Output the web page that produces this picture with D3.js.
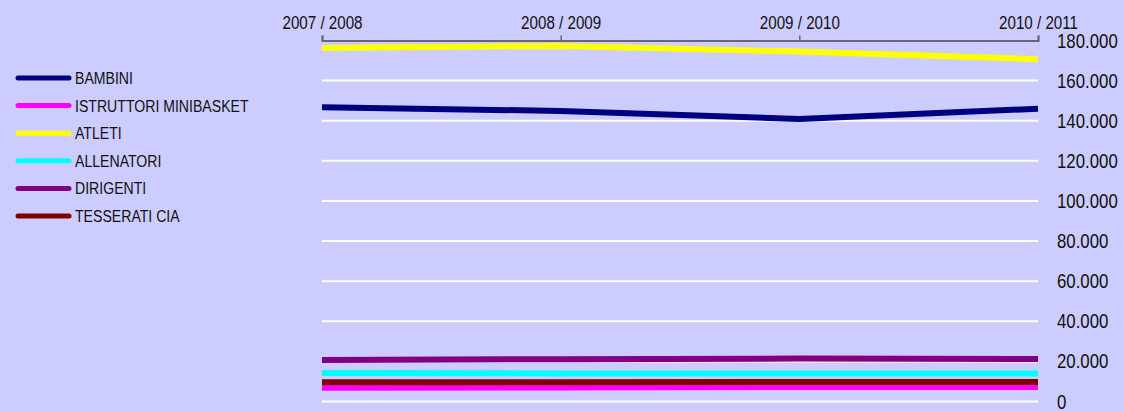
<!DOCTYPE html>
<html>
<head>
<meta charset="utf-8">
<script src="https://cdn.jsdelivr.net/npm/d3@7"></script>
<style>
  html, body { margin: 0; padding: 0; background: #ccccff; }
  svg { display: block; font-family: "Liberation Sans", Arial, sans-serif; }
</style>
</head>
<body>
<div class="chart"></div>
<script>
const seasons = ["2007 / 2008", "2008 / 2009", "2009 / 2010", "2010 / 2011"]
const seriesNames = ["BAMBINI", "ISTRUTTORI MINIBASKET", "ATLETI", "ALLENATORI", "DIRIGENTI", "TESSERATI CIA"]
const seriesColors = ["#000080", "#ff00ff", "#ffff00", "#00ffff", "#800080", "#800000"]

const bambini = [146700, 144900, 140900, 146000]
const istruttori = [6900, 7000, 7200, 7200]
const atleti = [176300, 177300, 174500, 170700]
const allenatori = [14200, 14000, 13900, 13900]
const dirigenti = [20700, 21100, 21400, 21200]
const tesseratiCia = [9600, 9650, 9700, 9700]

const yTicks = [0, 20000, 40000, 60000, 80000, 100000, 120000, 140000, 160000, 180000]

const seriesValues = [bambini, istruttori, atleti, allenatori, dirigenti, tesseratiCia]

const width = 1124
const height = 411
const squeeze = 0.82 // condensed look of the original font

const it = d3.formatLocale({decimal: ",", thousands: ".", grouping: [3], currency: ["€", ""]})
const fmt = it.format(",")

const xScale = d3.scalePoint()
	.domain(seasons)
	.range([322, 1038])

const yScale = d3.scaleLinear()
	.domain([0, 180000])
	.range([401.5, 40.5])

let svg = d3.select(".chart")
	.append("svg")
	.attr("width", width)
	.attr("height", height)

svg.append("rect")
	.attr("width", width)
	.attr("height", height)
	.attr("fill", "#ccccff")

// white gridlines (the top one is the axis)
svg.append("g")
	.selectAll("line")
	.data(yTicks.filter(function(d){return d < 180000}))
	.enter()
	.append("line")
	.attr("x1", 322)
	.attr("x2", 1038)
	.attr("y1", function(d){return yScale(d)})
	.attr("y2", function(d){return yScale(d)})
	.attr("stroke", "#ffffff")
	.attr("stroke-width", 2)

// Y labels on the right
const yAxisCall = d3.axisRight(yScale)
	.tickValues(yTicks)
	.tickFormat(fmt)
	.tickSize(0)
	.tickPadding(19)

let yAxis = svg.append("g")
	.attr("transform", "translate(1038, 0)")
	.call(yAxisCall)
yAxis.select(".domain").remove()
yAxis.selectAll("text")
	.attr("x", 19 / squeeze)
	.attr("transform", "scale(" + squeeze + ",1)")
	.attr("font-size", "20.5px")
	.attr("font-family", null)
	.attr("fill", "#111")

// lines
const line = d3.line()
	.x(function(d, i){return xScale(seasons[i])})
	.y(function(d){return yScale(d)})

svg.append("g")
	.selectAll("path")
	.data(seriesValues)
	.enter()
	.append("path")
	.attr("d", line)
	.attr("fill", "none")
	.attr("stroke", function(d, i){return seriesColors[i]})
	.attr("stroke-width", 6)
	.attr("stroke-linejoin", "round")
	.attr("stroke-linecap", "butt")

// top category axis
const xAxisCall = d3.axisTop(xScale)
	.tickSize(5)
	.tickSizeOuter(5)
	.tickPadding(7)

let xAxis = svg.append("g")
	.attr("transform", "translate(0, " + yScale(180000) + ")")
	.call(xAxisCall)
xAxis.select(".domain")
	.attr("stroke", "#666677")
	.attr("stroke-width", 2)
xAxis.selectAll(".tick line")
	.attr("stroke", "#666677")
	.attr("stroke-width", 1.5)
xAxis.selectAll("text")
	.attr("transform", "scale(" + squeeze + ",1)")
	.attr("font-size", "18.5px")
	.attr("font-family", null)
	.attr("fill", "#111")

// legend
let legend = svg.append("g")
	.selectAll("g")
	.data(seriesNames)
	.enter()
	.append("g")
	.attr("transform", function(d, i){return "translate(0, " + (78 + i * 27.6) + ")"})

legend.append("line")
	.attr("x1", 18)
	.attr("x2", 69)
	.attr("stroke", function(d, i){return seriesColors[i]})
	.attr("stroke-width", 5)
	.attr("stroke-linecap", "round")

legend.append("text")
	.attr("x", 75 / squeeze)
	.attr("dy", "0.35em")
	.attr("transform", "scale(" + squeeze + ",1)")
	.attr("font-size", "17.2px")
	.attr("fill", "#111")
	.text(function(d){return d})
</script>
</body>
</html>
